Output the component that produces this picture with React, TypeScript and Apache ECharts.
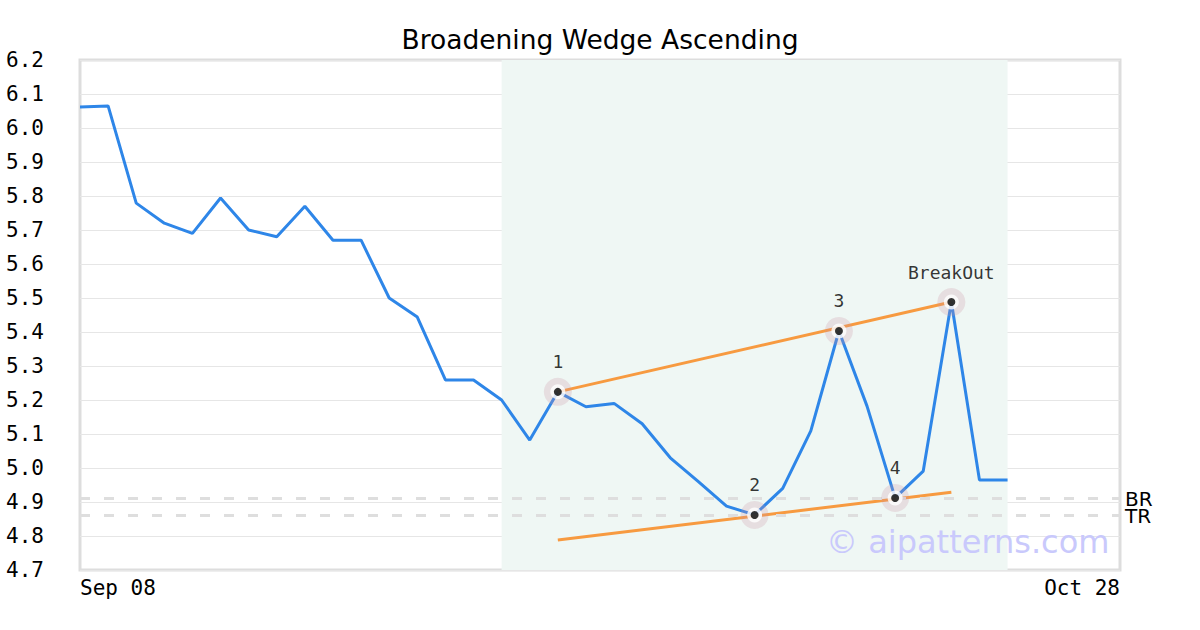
import React, { useEffect, useRef } from "react";
import * as echarts from "echarts";

const xLabels = ["Sep 08", "Oct 28"];
const lastIndex = 37;
const prices = [
  6.062, 6.065, 5.779, 5.72, 5.69, 5.794, 5.7, 5.68, 5.77, 5.67, 5.67, 5.5,
  5.444, 5.259, 5.259, 5.2, 5.082, 5.224, 5.18, 5.19, 5.13, 5.03, 4.96, 4.888,
  4.862, 4.94, 5.109, 5.403, 5.182, 4.912, 4.991, 5.488, 4.965, 4.965,
];
const pivotIdx = [17, 24, 27, 29, 31];
const pivotLabels = ["1", "2", "3", "4", "BreakOut"];
const upperLine = [
  [17, 5.224],
  [31, 5.488],
];
const lowerLine = [
  [17, 4.788],
  [31, 4.929],
];
const levelNames = ["BR", "TR"];
const levelValues = [4.909, 4.859];
const patternRange = [15, 33];

export default function App() {
  const ref = useRef<HTMLDivElement>(null);
  useEffect(() => {
    if (!ref.current) return;
    const chart = echarts.init(ref.current, null, { renderer: "svg" });
    const mono = "DejaVu Sans Mono";
    const sans = "DejaVu Sans";
    const priceData = prices.map((v, i) => [i, v]);
    const pivots = pivotIdx.map((i) => [i, prices[i]]);
    chart.setOption({
      animation: false,
      backgroundColor: "#ffffff",
      title: {
        text: "Broadening Wedge Ascending",
        left: "center",
        top: 21,
        textStyle: { fontFamily: sans, fontSize: 26.5, fontWeight: "normal", color: "#000" },
      },
      grid: {
        left: 80,
        right: 80,
        top: 60,
        bottom: 60,
        show: true,
        borderColor: "#dddddd",
        borderWidth: 3,
        backgroundColor: "transparent",
      },
      xAxis: {
        type: "value",
        min: 0,
        max: lastIndex,
        interval: lastIndex,
        axisLine: { show: false },
        axisTick: { show: false },
        splitLine: { show: false },
        axisLabel: {
          fontFamily: mono,
          fontSize: 21,
          color: "#000",
          margin: 7,
          alignMinLabel: "left",
          alignMaxLabel: "right",
          formatter: (v: number) => (v === 0 ? xLabels[0] : v === lastIndex ? xLabels[1] : ""),
        },
      },
      yAxis: {
        type: "value",
        min: 4.7,
        max: 6.2,
        interval: 0.1,
        axisLine: { show: false },
        axisTick: { show: false },
        splitLine: { show: true, lineStyle: { color: "#e6e6e6", width: 1 } },
        axisLabel: {
          fontFamily: mono,
          fontSize: 21,
          color: "#000",
          margin: 36,
          formatter: (v: number) => v.toFixed(1),
        },
      },
      graphic: [
        {
          type: "text",
          x: 826,
          y: 542,
          z: 100,
          style: {
            text: "© aipatterns.com",
            fontFamily: sans,
            fontSize: 32,
            fill: "#c9c9fc",
            textVerticalAlign: "middle",
          },
        },
      ],
      series: [
        {
          type: "line",
          data: priceData,
          showSymbol: false,
          symbol: "none",
          lineStyle: { color: "#2e86e8", width: 3 },
          z: 3,
          markArea: {
            silent: true,
            itemStyle: { color: "#eff7f4" },
            data: [[{ xAxis: patternRange[0] }, { xAxis: patternRange[1] }]],
          },
          markLine: {
            silent: true,
            symbol: "none",
            lineStyle: { color: "#dedede", width: 3, type: [10, 14] },
            label: {
              position: "end",
              fontFamily: sans,
              fontSize: 20,
              color: "#000",
              distance: 5,
              formatter: (p: any) => p.name,
            },
            data: levelValues.map((v, i) => ({ yAxis: v, name: levelNames[i] })),
          },
        },
        {
          type: "line",
          data: upperLine,
          symbol: "none",
          lineStyle: { color: "#f79a40", width: 3 },
          z: 4,
        },
        {
          type: "line",
          data: lowerLine,
          symbol: "none",
          lineStyle: { color: "#f79a40", width: 3 },
          z: 4,
        },
        {
          type: "scatter",
          data: pivots,
          symbolSize: 28,
          itemStyle: { color: "rgba(205,150,165,0.32)" },
          z: 5,
        },
        {
          type: "scatter",
          data: pivots,
          symbolSize: 15,
          itemStyle: { color: "#ffffff" },
          z: 6,
        },
        {
          type: "scatter",
          data: pivots,
          symbolSize: 8,
          itemStyle: { color: "#000000" },
          z: 7,
          label: {
            show: true,
            position: "top",
            distance: 17,
            fontFamily: mono,
            fontSize: 18,
            color: "#000000",
            textBorderWidth: 0,
            formatter: (p: any) => pivotLabels[p.dataIndex],
          },
        },
      ],
    });
    return () => chart.dispose();
  }, []);
  return (
    <div
      ref={ref}
      style={{ position: "fixed", left: 0, top: 0, width: 1200, height: 630 }}
    />
  );
}
